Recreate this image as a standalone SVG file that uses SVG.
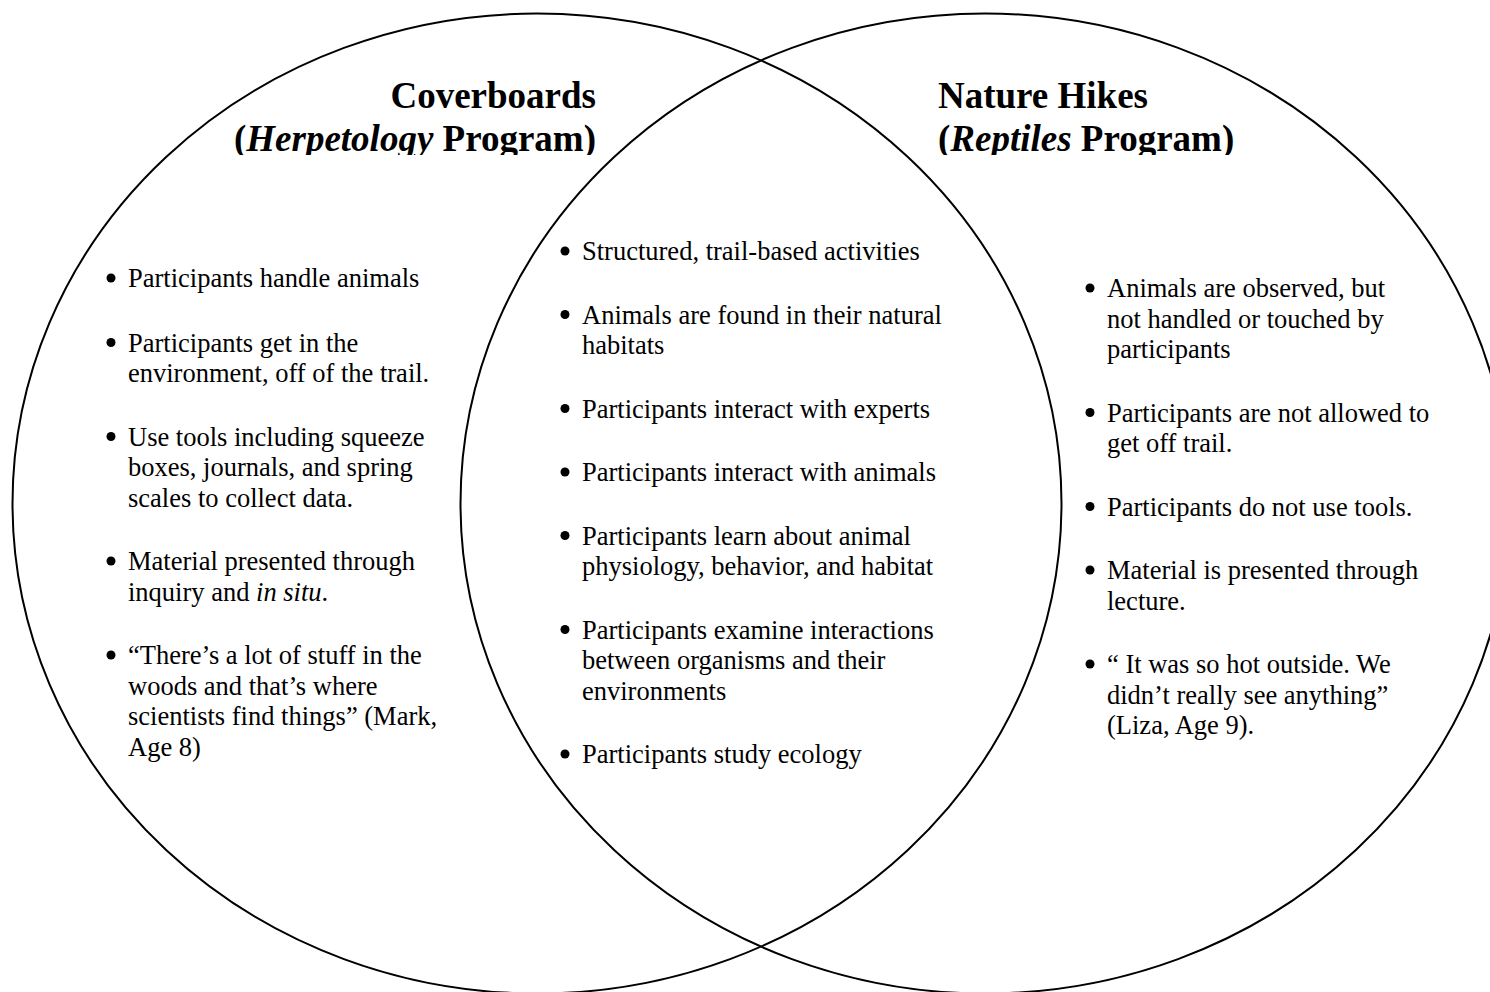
<svg xmlns="http://www.w3.org/2000/svg" width="1490" height="992" viewBox="0 0 1490 992">
  <style>
    .ring { fill: none; stroke: #000; stroke-width: 2; }
    .title { font-family: "Liberation Serif", "Times New Roman", serif; font-size: 37px; font-weight: bold; fill: #000; }
    .item { font-family: "Liberation Serif", "Times New Roman", serif; font-size: 26.5px; fill: #000; }
    .dot { fill: #000; }
    .it { font-style: italic; }
  </style>
  <defs>
    <clipPath id="titleClip">
      <rect x="0" y="0" width="1490" height="155"/>
    </clipPath>
  </defs>
  <rect width="1490" height="992" fill="#fff"/>

  <!-- the two overlapping sets -->
  <g id="connectors">
    <ellipse id="set-left" class="ring" cx="537" cy="503.5" rx="524.5" ry="490"/>
    <ellipse id="set-right" class="ring" cx="985" cy="503.5" rx="524.5" ry="490"/>
  </g>

  <!-- left set: Coverboards -->
  <g id="coverboards">
    <g clip-path="url(#titleClip)">
      <text class="title" x="596" y="108" text-anchor="end">Coverboards</text>
      <text class="title" x="596" y="150.5" text-anchor="end">(<tspan class="it">Herpetology</tspan> Program)</text>
    </g>
    <g class="item">
      <circle class="dot" cx="111" cy="278" r="4.5"/>
      <text x="128" y="287">Participants handle animals</text>
      <circle class="dot" cx="111" cy="342.5" r="4.5"/>
      <text x="128" y="351.5">Participants get in the</text>
      <text x="128" y="382">environment, off of the trail.</text>
      <circle class="dot" cx="111" cy="436.5" r="4.5"/>
      <text x="128" y="445.5">Use tools including squeeze</text>
      <text x="128" y="476">boxes, journals, and spring</text>
      <text x="128" y="506.5">scales to collect data.</text>
      <circle class="dot" cx="111" cy="561" r="4.5"/>
      <text x="128" y="570">Material presented through</text>
      <text x="128" y="600.5">inquiry and <tspan class="it">in situ</tspan>.</text>
      <circle class="dot" cx="111" cy="655" r="4.5"/>
      <text x="128" y="664">“There’s a lot of stuff in the</text>
      <text x="128" y="694.5">woods and that’s where</text>
      <text x="128" y="725">scientists find things” (Mark,</text>
      <text x="128" y="755.5">Age 8)</text>
    </g>
  </g>

  <!-- shared region -->
  <g id="shared">
    <g class="item">
      <circle class="dot" cx="565" cy="251" r="4.5"/>
      <text x="582" y="260">Structured, trail-based activities</text>
      <circle class="dot" cx="565" cy="314.5" r="4.5"/>
      <text x="582" y="323.5">Animals are found in their natural</text>
      <text x="582" y="354">habitats</text>
      <circle class="dot" cx="565" cy="408.5" r="4.5"/>
      <text x="582" y="417.5">Participants interact with experts</text>
      <circle class="dot" cx="565" cy="472" r="4.5"/>
      <text x="582" y="481">Participants interact with animals</text>
      <circle class="dot" cx="565" cy="535.5" r="4.5"/>
      <text x="582" y="544.5">Participants learn about animal</text>
      <text x="582" y="575">physiology, behavior, and habitat</text>
      <circle class="dot" cx="565" cy="629.5" r="4.5"/>
      <text x="582" y="638.5">Participants examine interactions</text>
      <text x="582" y="669">between organisms and their</text>
      <text x="582" y="699.5">environments</text>
      <circle class="dot" cx="565" cy="754" r="4.5"/>
      <text x="582" y="763">Participants study ecology</text>
    </g>
  </g>

  <!-- right set: Nature Hikes -->
  <g id="nature-hikes">
    <g clip-path="url(#titleClip)">
      <text class="title" x="938" y="108">Nature Hikes</text>
      <text class="title" x="938" y="150.5">(<tspan class="it">Reptiles</tspan> Program)</text>
    </g>
    <g class="item">
      <circle class="dot" cx="1090" cy="288" r="4.5"/>
      <text x="1107" y="297">Animals are observed, but</text>
      <text x="1107" y="327.5">not handled or touched by</text>
      <text x="1107" y="358">participants</text>
      <circle class="dot" cx="1090" cy="412.5" r="4.5"/>
      <text x="1107" y="421.5">Participants are not allowed to</text>
      <text x="1107" y="452">get off trail.</text>
      <circle class="dot" cx="1090" cy="506.5" r="4.5"/>
      <text x="1107" y="515.5">Participants do not use tools.</text>
      <circle class="dot" cx="1090" cy="570" r="4.5"/>
      <text x="1107" y="579">Material is presented through</text>
      <text x="1107" y="609.5">lecture.</text>
      <circle class="dot" cx="1090" cy="664" r="4.5"/>
      <text x="1107" y="673">“ It was so hot outside. We</text>
      <text x="1107" y="703.5">didn’t really see anything”</text>
      <text x="1107" y="734">(Liza, Age 9).</text>
    </g>
  </g>
</svg>
